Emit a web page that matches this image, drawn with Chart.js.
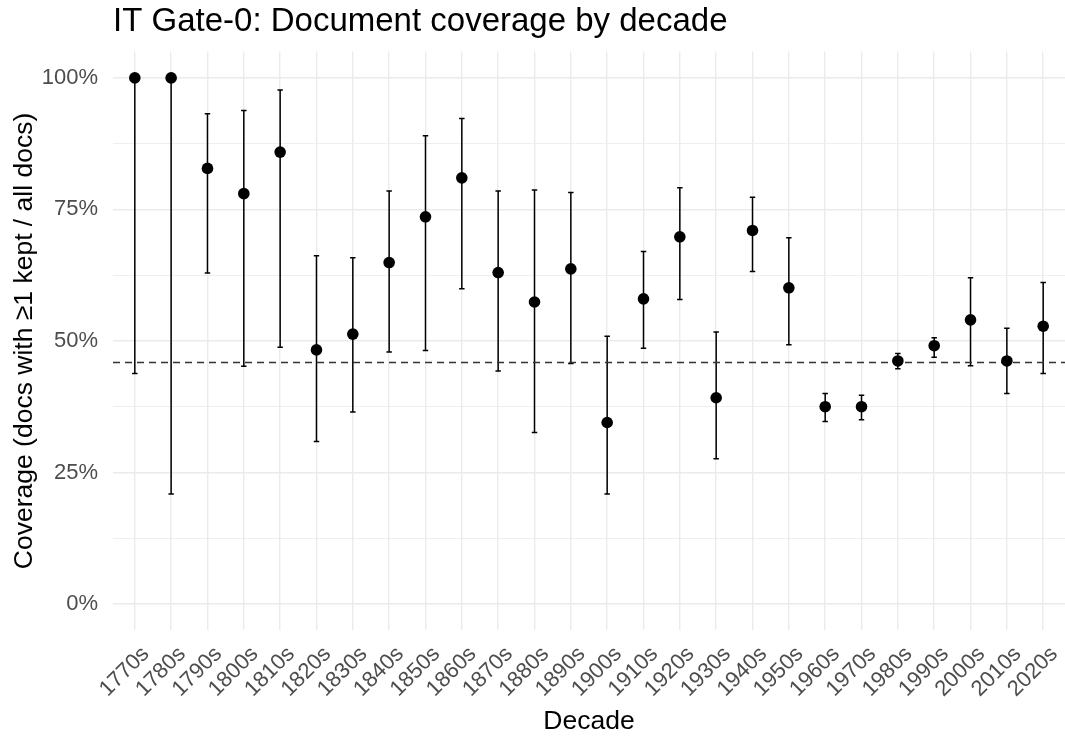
<!DOCTYPE html>
<html>
<head>
<meta charset="utf-8">
<script src="https://cdn.jsdelivr.net/npm/chart.js@4"></script>
<style>
  html, body { margin: 0; padding: 0; background: #fff; }
  #wrap { width: 1065px; height: 740px; }
</style>
</head>
<body>
<div id="wrap"><canvas id="coverageChart"></canvas></div>
<script>
var decades = ['1770s', '1780s', '1790s', '1800s', '1810s', '1820s', '1830s', '1840s', '1850s',
    '1860s', '1870s', '1880s', '1890s', '1900s', '1910s', '1920s', '1930s', '1940s', '1950s',
    '1960s', '1970s', '1980s', '1990s', '2000s', '2010s', '2020s'];
// coverage in %, with lower / upper interval ends
var coverage = [100, 100, 82.8, 78.0, 85.9, 48.3, 51.3, 64.9, 73.6, 81.0, 63.0, 57.4, 63.7,
    34.5, 58.0, 69.8, 39.2, 71.0, 60.1, 37.5, 37.5, 46.2, 49.1, 54.0, 46.2, 52.8];
var lower = [43.8, 20.9, 62.9, 45.2, 48.8, 30.9, 36.5, 47.9, 48.2, 59.9, 44.3, 32.6, 45.7,
    20.9, 48.6, 57.9, 27.6, 63.2, 49.3, 34.7, 35.0, 44.7, 46.9, 45.3, 40.0, 43.8];
var upper = [100, 100, 93.2, 93.8, 97.7, 66.2, 65.8, 78.5, 89.0, 92.3, 78.5, 78.7, 78.2,
    50.9, 67.0, 79.1, 51.7, 77.3, 69.6, 40.0, 39.7, 47.6, 50.6, 62.0, 52.4, 61.1];
var overall = 45.9;
var yTicks = [0, 25, 50, 75, 100];
var yGrid = [0, 12.5, 25, 37.5, 50, 62.5, 75, 87.5, 100];

var FONT = '"Liberation Sans", Arial, sans-serif';

// error bars drawn under the points
var errorBars = {
    id: 'errorBars',
    beforeDatasetsDraw: function(chart) {
        var ctx = chart.ctx, xs = chart.scales.x, ys = chart.scales.y;
        ctx.save();
        ctx.strokeStyle = '#000';
        ctx.lineWidth = 1.5;
        for (var i = 0; i < decades.length; i++) {
            var x = xs.getPixelForValue(i);
            var xl = xs.getPixelForValue(i - 0.075), xr = xs.getPixelForValue(i + 0.075);
            var yl = ys.getPixelForValue(lower[i]), yu = ys.getPixelForValue(upper[i]);
            ctx.beginPath();
            ctx.moveTo(x, yu); ctx.lineTo(x, yl);
            ctx.moveTo(xl, yu); ctx.lineTo(xr, yu);
            ctx.moveTo(xl, yl); ctx.lineTo(xr, yl);
            ctx.stroke();
        }
        ctx.restore();
    }
};

var ctx_cov = document.getElementById('coverageChart');
var coverageChart = new Chart(ctx_cov, {
    type: 'scatter',
    data: {
        datasets: [{
            type: 'line',
            label: 'Overall',
            data: [{x: -0.6, y: overall}, {x: 25.6, y: overall}],
            borderColor: '#333333',
            borderWidth: 1.3,
            borderDash: [7, 5],
            pointRadius: 0,
            order: 2
        }, {
            label: 'Coverage',
            data: decades.map(function(d, i) { return {x: i, y: coverage[i]}; }),
            backgroundColor: '#000',
            borderColor: '#000',
            pointRadius: 5.8,
            pointBorderWidth: 0,
            order: 1
        }]
    },
    plugins: [errorBars],
    options: {
        responsive: true,
        maintainAspectRatio: false,
        animation: false,
        layout: { padding: 0, autoPadding: false },
        plugins: {
            legend: { display: false },
            tooltip: { enabled: false },
            title: {
                display: true,
                text: 'IT Gate-0: Document coverage by decade',
                align: 'start',
                fullSize: false,
                color: '#000',
                font: { family: FONT, size: 33, weight: 'normal' },
                padding: { top: 2.5, bottom: 9.5 }
            }
        },
        scales: {
            x: {
                type: 'linear',
                min: -0.6,
                max: 25.6,
                bounds: 'data',
                border: { display: false },
                grid: { color: '#ebebeb', lineWidth: 1.4, drawTicks: false },
                afterBuildTicks: function(s) {
                    s.ticks = decades.map(function(d, i) { return {value: i}; });
                },
                ticks: {
                    autoSkip: false,
                    maxRotation: 45,
                    minRotation: 45,
                    labelOffset: 11,
                    padding: 11,
                    color: '#4d4d4d',
                    font: { family: FONT, size: 22 },
                    callback: function(v) { return decades[v]; }
                },
                title: {
                    display: true,
                    text: 'Decade',
                    color: '#000',
                    font: { family: FONT, size: 26.5 },
                    padding: { top: 0, bottom: 2.3 }
                },
                afterFit: function(s) { s.height = 109.7; s.paddingLeft = 0; s.paddingRight = 0; }
            },
            y: {
                type: 'linear',
                min: -5,
                max: 105,
                bounds: 'data',
                border: { display: false },
                grid: {
                    color: '#ebebeb',
                    drawTicks: false,
                    lineWidth: function(c) { return yTicks.indexOf(c.tick.value) >= 0 ? 1.4 : 0.8; }
                },
                afterBuildTicks: function(s) {
                    s.ticks = yGrid.map(function(v) { return {value: v}; });
                },
                ticks: {
                    autoSkip: false,
                    padding: 15,
                    color: '#4d4d4d',
                    font: { family: FONT, size: 22 },
                    callback: function(v) { return yTicks.indexOf(v) >= 0 ? v + '%' : ''; }
                },
                title: {
                    display: true,
                    text: 'Coverage (docs with \u22651 kept / all docs)',
                    color: '#000',
                    font: { family: FONT, size: 26.5 },
                    padding: { top: 9, bottom: 0 }
                },
                afterFit: function(s) { s.width = 113; }
            }
        }
    }
});
</script>
</body>
</html>
